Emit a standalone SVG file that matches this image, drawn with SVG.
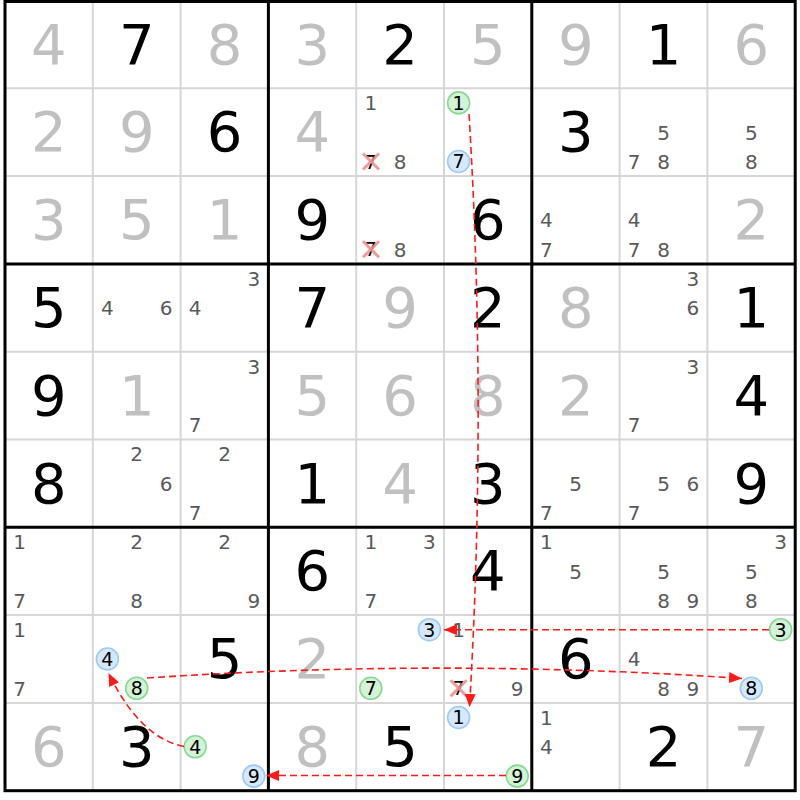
<svg xmlns="http://www.w3.org/2000/svg" width="800" height="800" viewBox="0 0 800 800">
<style>
text{font-family:"DejaVu Sans","Liberation Sans",sans-serif;text-anchor:middle}
.g{font-size:56px;fill:#000}
.s{font-size:56px;fill:#c0c0c0}
.c{font-size:20px;fill:#5a5a5a}
.k{font-size:19px;fill:#000}
.gc{fill:#d3f2d6;stroke:#86d994;stroke-width:1.6}
.bc{fill:#d6e8fb;stroke:#9ccaf5;stroke-width:1.6}
.x{stroke:#f08a8a;stroke-width:3;stroke-opacity:0.85}
.thin{stroke:#d6d6d6;stroke-width:2}
.thick{stroke:#000;stroke-width:3}
.ar{fill:none;stroke:#ff1a1a;stroke-width:1.6;stroke-dasharray:7,4}
</style>
<defs>
<marker id="ah" markerUnits="userSpaceOnUse" markerWidth="13" markerHeight="11" refX="13" refY="5.5" orient="auto">
<path d="M0,0 L13,5.5 L0,11 z" fill="#ff1a1a"/>
</marker>
</defs>
<rect x="0" y="0" width="800" height="800" fill="#fff"/>
<g id="grid">
<g class="thin">
<line x1="92.8" y1="0.5" x2="92.8" y2="790.7"/><line x1="180.6" y1="0.5" x2="180.6" y2="790.7"/>
<line x1="356.2" y1="0.5" x2="356.2" y2="790.7"/><line x1="444" y1="0.5" x2="444" y2="790.7"/>
<line x1="619.6" y1="0.5" x2="619.6" y2="790.7"/><line x1="707.4" y1="0.5" x2="707.4" y2="790.7"/>
<line x1="5" y1="88.3" x2="795.2" y2="88.3"/><line x1="5" y1="176.1" x2="795.2" y2="176.1"/>
<line x1="5" y1="351.7" x2="795.2" y2="351.7"/><line x1="5" y1="439.5" x2="795.2" y2="439.5"/>
<line x1="5" y1="615.1" x2="795.2" y2="615.1"/><line x1="5" y1="702.9" x2="795.2" y2="702.9"/>
</g>
<g class="thick">
<line x1="268.4" y1="0.5" x2="268.4" y2="790.7"/><line x1="531.8" y1="0.5" x2="531.8" y2="790.7"/>
<line x1="5" y1="263.9" x2="795.2" y2="263.9"/><line x1="5" y1="527.3" x2="795.2" y2="527.3"/>
<rect x="5" y="1.5" width="790.2" height="789.2" fill="none"/>
</g>
</g>
<g id="cells">
<g id="r1c1"><text class="s" x="48.9" y="63.5">4</text></g>
<g id="r1c2"><text class="g" x="136.7" y="63.5">7</text></g>
<g id="r1c3"><text class="s" x="224.5" y="63.5">8</text></g>
<g id="r1c4"><text class="s" x="312.3" y="63.5">3</text></g>
<g id="r1c5"><text class="g" x="400.1" y="63.5">2</text></g>
<g id="r1c6"><text class="s" x="487.9" y="63.5">5</text></g>
<g id="r1c7"><text class="s" x="575.7" y="63.5">9</text></g>
<g id="r1c8"><text class="g" x="663.5" y="63.5">1</text></g>
<g id="r1c9"><text class="s" x="751.3" y="63.5">6</text></g>

<g id="r2c1"><text class="s" x="48.9" y="151.3">2</text></g>
<g id="r2c2"><text class="s" x="136.7" y="151.3">9</text></g>
<g id="r2c3"><text class="g" x="224.5" y="151.3">6</text></g>
<g id="r2c4"><text class="s" x="312.3" y="151.3">4</text></g>
<g id="r2c5"><text class="c" x="370.8" y="110.2">1</text><text class="k" x="370.8" y="168.5">7</text><line class="x" x1="363" y1="153.5" x2="379" y2="169.5"/><line class="x" x1="379" y1="153.5" x2="363" y2="169.5"/><text class="c" x="400.1" y="168.8">8</text></g>
<g id="r2c6"><circle class="gc" cx="458.6" cy="102.9" r="11"/><text class="k" x="458.6" y="109.8">1</text><circle class="bc" cx="458.6" cy="161.5" r="11"/><text class="k" x="458.6" y="168.4">7</text></g>
<g id="r2c7"><text class="g" x="575.7" y="151.3">3</text></g>
<g id="r2c8"><text class="c" x="663.5" y="139.5">5</text><text class="c" x="634.2" y="168.8">7</text><text class="c" x="663.5" y="168.8">8</text></g>
<g id="r2c9"><text class="c" x="751.3" y="139.5">5</text><text class="c" x="751.3" y="168.8">8</text></g>

<g id="r3c1"><text class="s" x="48.9" y="239.1">3</text></g>
<g id="r3c2"><text class="s" x="136.7" y="239.1">5</text></g>
<g id="r3c3"><text class="s" x="224.5" y="239.1">1</text></g>
<g id="r3c4"><text class="g" x="312.3" y="239.1">9</text></g>
<g id="r3c5"><text class="k" x="370.8" y="256.3">7</text><line class="x" x1="363" y1="241.3" x2="379" y2="257.3"/><line class="x" x1="379" y1="241.3" x2="363" y2="257.3"/><text class="c" x="400.1" y="256.6">8</text></g>
<g id="r3c6"><text class="g" x="487.9" y="239.1">6</text></g>
<g id="r3c7"><text class="c" x="546.4" y="227.3">4</text><text class="c" x="546.4" y="256.6">7</text></g>
<g id="r3c8"><text class="c" x="634.2" y="227.3">4</text><text class="c" x="634.2" y="256.6">7</text><text class="c" x="663.5" y="256.6">8</text></g>
<g id="r3c9"><text class="s" x="751.3" y="239.1">2</text></g>

<g id="r4c1"><text class="g" x="48.9" y="326.9">5</text></g>
<g id="r4c2"><text class="c" x="107.4" y="315.1">4</text><text class="c" x="166" y="315.1">6</text></g>
<g id="r4c3"><text class="c" x="253.8" y="285.8">3</text><text class="c" x="195.2" y="315.1">4</text></g>
<g id="r4c4"><text class="g" x="312.3" y="326.9">7</text></g>
<g id="r4c5"><text class="s" x="400.1" y="326.9">9</text></g>
<g id="r4c6"><text class="g" x="487.9" y="326.9">2</text></g>
<g id="r4c7"><text class="s" x="575.7" y="326.9">8</text></g>
<g id="r4c8"><text class="c" x="692.8" y="285.8">3</text><text class="c" x="692.8" y="315.1">6</text></g>
<g id="r4c9"><text class="g" x="751.3" y="326.9">1</text></g>

<g id="r5c1"><text class="g" x="48.9" y="414.7">9</text></g>
<g id="r5c2"><text class="s" x="136.7" y="414.7">1</text></g>
<g id="r5c3"><text class="c" x="253.8" y="373.6">3</text><text class="c" x="195.2" y="432.2">7</text></g>
<g id="r5c4"><text class="s" x="312.3" y="414.7">5</text></g>
<g id="r5c5"><text class="s" x="400.1" y="414.7">6</text></g>
<g id="r5c6"><text class="s" x="487.9" y="414.7">8</text></g>
<g id="r5c7"><text class="s" x="575.7" y="414.7">2</text></g>
<g id="r5c8"><text class="c" x="692.8" y="373.6">3</text><text class="c" x="634.2" y="432.2">7</text></g>
<g id="r5c9"><text class="g" x="751.3" y="414.7">4</text></g>

<g id="r6c1"><text class="g" x="48.9" y="502.5">8</text></g>
<g id="r6c2"><text class="c" x="136.7" y="461.4">2</text><text class="c" x="166" y="490.7">6</text></g>
<g id="r6c3"><text class="c" x="224.5" y="461.4">2</text><text class="c" x="195.2" y="520">7</text></g>
<g id="r6c4"><text class="g" x="312.3" y="502.5">1</text></g>
<g id="r6c5"><text class="s" x="400.1" y="502.5">4</text></g>
<g id="r6c6"><text class="g" x="487.9" y="502.5">3</text></g>
<g id="r6c7"><text class="c" x="575.7" y="490.7">5</text><text class="c" x="546.4" y="520">7</text></g>
<g id="r6c8"><text class="c" x="663.5" y="490.7">5</text><text class="c" x="692.8" y="490.7">6</text><text class="c" x="634.2" y="520">7</text></g>
<g id="r6c9"><text class="g" x="751.3" y="502.5">9</text></g>

<g id="r7c1"><text class="c" x="19.6" y="549.2">1</text><text class="c" x="19.6" y="607.8">7</text></g>
<g id="r7c2"><text class="c" x="136.7" y="549.2">2</text><text class="c" x="136.7" y="607.8">8</text></g>
<g id="r7c3"><text class="c" x="224.5" y="549.2">2</text><text class="c" x="253.8" y="607.8">9</text></g>
<g id="r7c4"><text class="g" x="312.3" y="590.3">6</text></g>
<g id="r7c5"><text class="c" x="370.8" y="549.2">1</text><text class="c" x="429.4" y="549.2">3</text><text class="c" x="370.8" y="607.8">7</text></g>
<g id="r7c6"><text class="g" x="487.9" y="590.3">4</text></g>
<g id="r7c7"><text class="c" x="546.4" y="549.2">1</text><text class="c" x="575.7" y="578.5">5</text></g>
<g id="r7c8"><text class="c" x="663.5" y="578.5">5</text><text class="c" x="663.5" y="607.8">8</text><text class="c" x="692.8" y="607.8">9</text></g>
<g id="r7c9"><text class="c" x="780.6" y="549.2">3</text><text class="c" x="751.3" y="578.5">5</text><text class="c" x="751.3" y="607.8">8</text></g>

<g id="r8c1"><text class="c" x="19.6" y="637">1</text><text class="c" x="19.6" y="695.6">7</text></g>
<g id="r8c2"><circle class="bc" cx="107.4" cy="659" r="11"/><text class="k" x="107.4" y="665.9">4</text><circle class="gc" cx="136.7" cy="688.3" r="11"/><text class="k" x="136.7" y="695.2">8</text></g>
<g id="r8c3"><text class="g" x="224.5" y="678.1">5</text></g>
<g id="r8c4"><text class="s" x="312.3" y="678.1">2</text></g>
<g id="r8c5"><circle class="bc" cx="429.4" cy="629.7" r="11"/><text class="k" x="429.4" y="636.6">3</text><circle class="gc" cx="370.8" cy="688.3" r="11"/><text class="k" x="370.8" y="695.2">7</text></g>
<g id="r8c6"><text class="c" x="458.6" y="637">1</text><text class="k" x="458.6" y="695.2">7</text><line class="x" x1="450.6" y1="680.3" x2="466.6" y2="696.3"/><line class="x" x1="466.6" y1="680.3" x2="450.6" y2="696.3"/><text class="c" x="517.2" y="695.6">9</text></g>
<g id="r8c7"><text class="g" x="575.7" y="678.1">6</text></g>
<g id="r8c8"><text class="c" x="634.2" y="666.3">4</text><text class="c" x="663.5" y="695.6">8</text><text class="c" x="692.8" y="695.6">9</text></g>
<g id="r8c9"><circle class="gc" cx="780.6" cy="629.7" r="11"/><text class="k" x="780.6" y="636.6">3</text><circle class="bc" cx="751.3" cy="688.3" r="11"/><text class="k" x="751.3" y="695.2">8</text></g>

<g id="r9c1"><text class="s" x="48.9" y="765.9">6</text></g>
<g id="r9c2"><text class="g" x="136.7" y="765.9">3</text></g>
<g id="r9c3"><circle class="gc" cx="195.2" cy="746.8" r="11"/><text class="k" x="195.2" y="753.7">4</text><circle class="bc" cx="253.8" cy="776.1" r="11"/><text class="k" x="253.8" y="783">9</text></g>
<g id="r9c4"><text class="s" x="312.3" y="765.9">8</text></g>
<g id="r9c5"><text class="g" x="400.1" y="765.9">5</text></g>
<g id="r9c6"><circle class="bc" cx="458.6" cy="717.5" r="11"/><text class="k" x="458.6" y="724.4">1</text><circle class="gc" cx="517.2" cy="776.1" r="11"/><text class="k" x="517.2" y="783">9</text></g>
<g id="r9c7"><text class="c" x="546.4" y="724.8">1</text><text class="c" x="546.4" y="754.1">4</text></g>
<g id="r9c8"><text class="g" x="663.5" y="765.9">2</text></g>
<g id="r9c9"><text class="s" x="751.3" y="765.9">7</text></g>
</g>
<g id="connectors">
<path class="ar" d="M469,114 Q487,410 469.5,707" marker-end="url(#ah)"/>
<path class="ar" d="M769,629.7 L444,629.7" marker-end="url(#ah)"/>
<path class="ar" d="M147,678 Q445,658 742,678.5" marker-end="url(#ah)"/>
<path class="ar" d="M184,746.5 Q140,738 108.5,673" marker-end="url(#ah)"/>
<path class="ar" d="M506,775.5 L266,775.5" marker-end="url(#ah)"/>
</g>
</svg>
